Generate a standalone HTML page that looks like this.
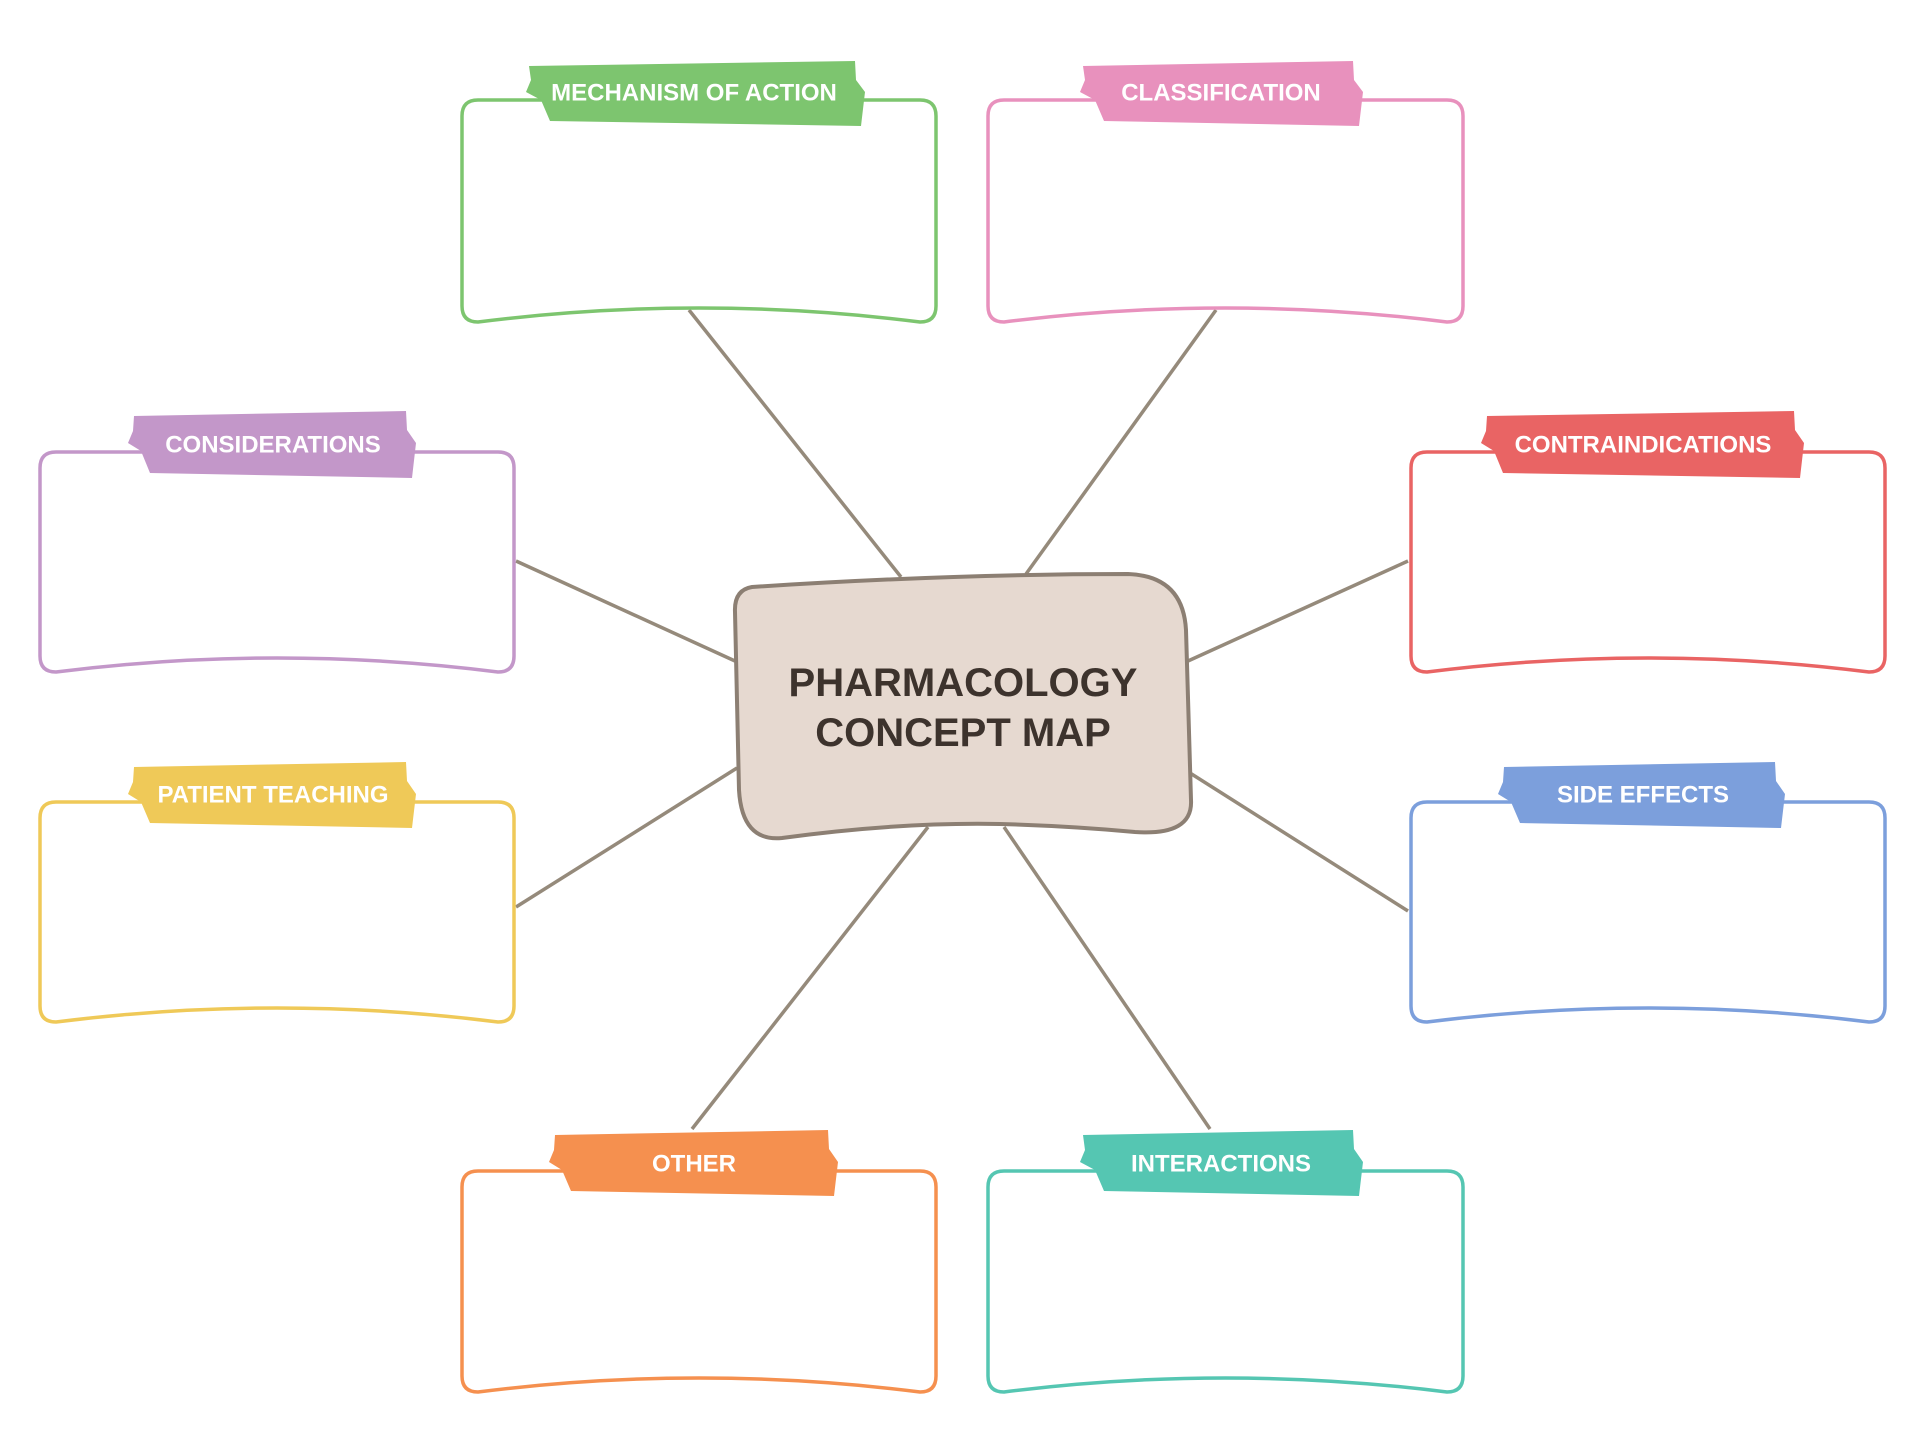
<!DOCTYPE html>
<html><head><meta charset="utf-8"><style>
html,body{margin:0;padding:0;background:#fff;}
svg{display:block;}
.t{font-family:"Liberation Sans",sans-serif;font-weight:bold;fill:#fff;font-size:24px;text-anchor:middle;dominant-baseline:central;}
.ln{stroke:#958a7b;stroke-width:3.5;fill:none;}
.bx{fill:#fff;stroke-width:3.5;}
</style></head><body>
<svg width="1920" height="1440" viewBox="0 0 1920 1440" xmlns="http://www.w3.org/2000/svg">
<g class="ln">
<line x1="689" y1="310" x2="901" y2="577"/>
<line x1="1216" y1="310" x2="1026" y2="574"/>
<line x1="516" y1="561" x2="735" y2="661"/>
<line x1="516" y1="907" x2="737" y2="768"/>
<line x1="1408" y1="561" x2="1188" y2="661"/>
<line x1="1408" y1="911" x2="1190" y2="773"/>
<line x1="692" y1="1129" x2="928" y2="827"/>
<line x1="1210" y1="1129" x2="1004" y2="827"/>
</g>
<path class="bx" stroke="#7dc56f" d="M478 100 H920 Q936 100 936 116 V306 Q936 322 920 322 Q699 294 478 322 Q462 322 462 306 V116 Q462 100 478 100Z"/>
<path class="bx" stroke="#e891bd" d="M1004 100 H1447 Q1463 100 1463 116 V306 Q1463 322 1447 322 Q1225 294 1004 322 Q988 322 988 306 V116 Q988 100 1004 100Z"/>
<path class="bx" stroke="#c397c9" d="M56 452 H498 Q514 452 514 468 V656 Q514 672 498 672 Q277 644 56 672 Q40 672 40 656 V468 Q40 452 56 452Z"/>
<path class="bx" stroke="#e96464" d="M1427 452 H1869 Q1885 452 1885 468 V656 Q1885 672 1869 672 Q1648 644 1427 672 Q1411 672 1411 656 V468 Q1411 452 1427 452Z"/>
<path class="bx" stroke="#efc958" d="M56 802 H498 Q514 802 514 818 V1006 Q514 1022 498 1022 Q277 994 56 1022 Q40 1022 40 1006 V818 Q40 802 56 802Z"/>
<path class="bx" stroke="#7c9fdc" d="M1427 802 H1869 Q1885 802 1885 818 V1006 Q1885 1022 1869 1022 Q1648 994 1427 1022 Q1411 1022 1411 1006 V818 Q1411 802 1427 802Z"/>
<path class="bx" stroke="#f5904f" d="M478 1171 H920 Q936 1171 936 1187 V1376 Q936 1392 920 1392 Q699 1364 478 1392 Q462 1392 462 1376 V1187 Q462 1171 478 1171Z"/>
<path class="bx" stroke="#55c6b2" d="M1004 1171 H1447 Q1463 1171 1463 1187 V1376 Q1463 1392 1447 1392 Q1225 1364 1004 1392 Q988 1392 988 1376 V1187 Q988 1171 1004 1171Z"/>
<path fill="#e6d9d0" stroke="#8c7f73" stroke-width="4" d="M752 587 Q734 590 735 612 L739 790 Q742 842 782 838 Q900 822 1000 824 Q1070 826 1135 832 Q1193 836 1191 800 L1186 630 Q1183 576 1128 574 Q950 574 752 587 Z"/>
<text x="963" y="683" text-anchor="middle" dominant-baseline="central" font-family="Liberation Sans, sans-serif" font-weight="bold" font-size="40" fill="#3d332d">PHARMACOLOGY</text>
<text x="963" y="733" text-anchor="middle" dominant-baseline="central" font-family="Liberation Sans, sans-serif" font-weight="bold" font-size="40" fill="#3d332d">CONCEPT MAP</text>
<polygon fill="#7dc56f" points="529,66 855,61 856,80 865,92 861,126 550,121 541,100 526,92 531,80"/>
<text class="t" x="694" y="93">MECHANISM OF ACTION</text>
<polygon fill="#e891bd" points="1083,66 1353,61 1354,80 1363,92 1359,126 1104,121 1095,100 1080,92 1085,80"/>
<text class="t" x="1221" y="93">CLASSIFICATION</text>
<polygon fill="#c397c9" points="134,416 406,411 407,430 416,443 412,478 150,473 141,451 128,443 133,431"/>
<text class="t" x="273" y="445">CONSIDERATIONS</text>
<polygon fill="#e96464" points="1487,416 1794,411 1795,430 1804,443 1800,478 1503,473 1494,451 1481,443 1486,431"/>
<text class="t" x="1643" y="445">CONTRAINDICATIONS</text>
<polygon fill="#efc958" points="134,767 406,762 407,781 416,794 412,828 150,823 141,802 128,794 133,782"/>
<text class="t" x="273" y="795">PATIENT TEACHING</text>
<polygon fill="#7c9fdc" points="1504,767 1775,762 1776,781 1785,794 1781,828 1520,823 1511,802 1498,794 1503,782"/>
<text class="t" x="1643" y="795">SIDE EFFECTS</text>
<polygon fill="#f5904f" points="555,1135 828,1130 829,1149 838,1162 834,1196 571,1191 562,1170 549,1162 554,1150"/>
<text class="t" x="694" y="1164">OTHER</text>
<polygon fill="#55c6b2" points="1083,1135 1353,1130 1354,1149 1363,1162 1359,1196 1104,1191 1095,1170 1080,1162 1085,1150"/>
<text class="t" x="1221" y="1164">INTERACTIONS</text>
</svg>
</body></html>
